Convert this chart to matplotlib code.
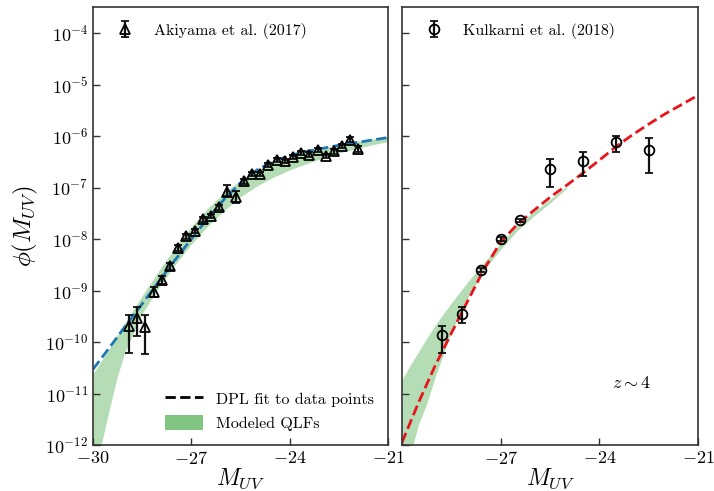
import numpy as np
import matplotlib.pyplot as plt
from matplotlib.patches import Patch
from matplotlib.lines import Line2D

plt.rcParams['font.family'] = 'serif'
plt.rcParams['font.serif'] = ['cmr10']
plt.rcParams['mathtext.fontset'] = 'cm'
plt.rcParams['axes.formatter.use_mathtext'] = True

# Akiyama et al. (2017) binned QLF: M_UV, log10 phi, lower / upper errors (dex)
aki_M = np.array([-28.9, -28.65, -28.4, -28.15, -27.9, -27.65, -27.4, -27.15,
                  -26.9, -26.65, -26.4, -26.15, -25.9, -25.65, -25.4, -25.15,
                  -24.9, -24.65, -24.4, -24.15, -23.9, -23.65, -23.4, -23.15,
                  -22.9, -22.65, -22.4, -22.15, -21.9])
aki_logphi = np.array([-9.69, -9.53, -9.70, -9.03, -8.79, -8.53, -8.17, -7.95,
                       -7.84, -7.62, -7.55, -7.38, -7.08, -7.18, -6.88, -6.73,
                       -6.73, -6.57, -6.47, -6.49, -6.40, -6.33, -6.36, -6.28,
                       -6.38, -6.30, -6.20, -6.07, -6.25])
aki_err_lo = np.array([0.53, 0.35, 0.53, 0.10, 0.08, 0.07, 0.06, 0.05,
                       0.05, 0.05, 0.05, 0.05, 0.09, 0.12, 0.06, 0.05,
                       0.05, 0.04, 0.04, 0.04, 0.04, 0.04, 0.04, 0.04,
                       0.05, 0.04, 0.04, 0.05, 0.06])
aki_err_hi = np.array([0.22, 0.21, 0.22, 0.09, 0.07, 0.06, 0.05, 0.05,
                       0.04, 0.04, 0.04, 0.04, 0.13, 0.11, 0.05, 0.04,
                       0.04, 0.04, 0.04, 0.04, 0.04, 0.04, 0.04, 0.04,
                       0.04, 0.04, 0.04, 0.05, 0.05])

# Kulkarni et al. (2018) binned QLF
kul_M = np.array([-28.78, -28.19, -27.6, -27.0, -26.4, -25.5, -24.51, -23.5, -22.49])
kul_logphi = np.array([-9.87, -9.45, -8.61, -8.00, -7.64, -6.64, -6.49, -6.12, -6.27])
kul_err_lo = np.array([0.35, 0.19, 0.04, 0.03, 0.03, 0.35, 0.28, 0.20, 0.45])
kul_err_hi = np.array([0.19, 0.13, 0.04, 0.03, 0.03, 0.19, 0.17, 0.12, 0.23])

# DPL fits (log10 phi) on a common magnitude grid
fit_M = np.array([-30, -29.5, -29, -28.5, -28, -27.5, -27, -26.5, -26, -25.5,
                  -25, -24.5, -24, -23.5, -23, -22.5, -22, -21.5, -21])
aki_fit = np.array([-10.53, -10.11, -9.68, -9.26, -8.83, -8.41, -8.00, -7.60, -7.23, -6.91,
                    -6.66, -6.49, -6.38, -6.30, -6.24, -6.18, -6.13, -6.08, -6.03])
kul_fit = np.array([-11.95, -11.18, -10.47, -9.83, -9.20, -8.58, -8.06, -7.72, -7.45, -7.19,
                    -6.96, -6.72, -6.47, -6.21, -5.98, -5.77, -5.57, -5.39, -5.21])

# Modeled QLF range, left panel
band1_M = np.array([-30, -29.75, -29.5, -29.25, -29, -28.5, -28, -27.5, -27, -26.5,
                    -26, -25.5, -25, -24.5, -24, -23.5, -23, -22.5, -22, -21.5, -21])
band1_hi = np.array([-10.62, -10.37, -10.12, -9.86, -9.60, -9.10, -8.62, -8.17, -7.76, -7.40,
                     -7.10, -6.86, -6.67, -6.52, -6.41, -6.32, -6.24, -6.17, -6.11, -6.06, -6.01])
band1_lo = np.array([-12.70, -12.00, -11.30, -10.65, -10.15, -9.45, -8.95, -8.50, -8.10, -7.75,
                     -7.45, -7.18, -6.97, -6.80, -6.66, -6.54, -6.43, -6.33, -6.25, -6.17, -6.11])

# Modeled QLF range, right panel
band2_M = np.array([-30, -29.75, -29.5, -29.25, -29, -28.5, -28, -27.5, -27, -26.5,
                    -26, -25.5, -25])
band2_hi = np.array([-10.73, -10.45, -10.19, -9.93, -9.68, -9.24, -8.83, -8.45, -8.08, -7.74,
                     -7.47, -7.23, -6.98])
band2_lo = np.array([-13.00, -12.20, -11.60, -11.20, -10.70, -9.80, -9.14, -8.60, -8.20, -7.84,
                     -7.56, -7.30, -7.02])

x_ticks = [-30, -27, -24, -21]


def yerr(logphi, lo, hi):
    phi = 10**logphi
    return [phi - 10**(logphi - lo), 10**(logphi + hi) - phi]


fig = plt.figure(figsize=(7.14, 4.91), dpi=100)
ax1 = fig.add_axes([93/714, 46/491, 295/714, 438/491])
ax2 = fig.add_axes([402/714, 46/491, 296/714, 438/491], sharey=ax1)

band_col = '#2ca02c'
for ax in (ax1, ax2):
    ax.set_yscale('log')
    ax.set_xlim(-30, -21)
    ax.set_ylim(1e-12, 3.2e-4)
    ax.set_xticks(x_ticks)
    ax.set_yticks([10.0**k for k in range(-12, -3)])
    ax.minorticks_off()
    ax.tick_params(direction='in', length=5, width=1, labelsize=13,
                   top=False, right=False, color='#333333')
    for s in ax.spines.values():
        s.set_color('#333333')
        s.set_linewidth(1.2)
    ax.set_xlabel(r'$M_{UV}$', fontsize=17, labelpad=0)

ax1.set_ylabel(r'$\phi(M_{UV})$', fontsize=18, labelpad=4)
ax2.tick_params(labelleft=False)
# the -30 label of the right panel would sit on top of the left panel's -21
ax2.set_xticklabels([''] + [r'$-%d$' % -t for t in x_ticks[1:]])

# left panel
ax1.fill_between(band1_M, 10**band1_lo, 10**band1_hi, color=band_col, alpha=0.35,
                 lw=0, zorder=1)
ax1.plot(fit_M, 10**aki_fit, '--', color='#1f77b4', lw=2, zorder=2)
h1 = ax1.errorbar(aki_M, 10**aki_logphi, yerr=yerr(aki_logphi, aki_err_lo, aki_err_hi),
                  fmt='^', mfc='none', mec='black', ms=7, mew=1.3, ecolor='#111111',
                  elinewidth=1.6, capsize=3, capthick=1.5, zorder=3)
leg1 = ax1.legend([h1], ['Akiyama et al. (2017)'], loc='upper left', frameon=False,
                  fontsize=11.5, handletextpad=0.8, borderaxespad=0.6)
ax1.add_artist(leg1)
ax1.legend([Line2D([], [], color='black', ls='--', lw=2),
            Patch(facecolor=band_col, alpha=0.6, lw=0)],
           ['DPL fit to data points', 'Modeled QLFs'],
           loc='lower right', frameon=False, fontsize=11.5, handlelength=2.4,
           handleheight=1.1, borderaxespad=0.5)

# right panel
ax2.fill_between(band2_M, 10**band2_lo, 10**band2_hi, color=band_col, alpha=0.35,
                 lw=0, zorder=1)
ax2.plot(fit_M, 10**kul_fit, '--', color='#e8141c', lw=2, zorder=2)
h2 = ax2.errorbar(kul_M, 10**kul_logphi, yerr=yerr(kul_logphi, kul_err_lo, kul_err_hi),
                  fmt='o', mfc='none', mec='black', ms=7, mew=1.3, ecolor='#111111',
                  elinewidth=1.6, capsize=3, capthick=1.5, zorder=3)
ax2.legend([h2], ['Kulkarni et al. (2018)'], loc='upper left', frameon=False,
           fontsize=11.5, handletextpad=0.8, borderaxespad=0.6)
ax2.text(0.71, 0.13, r'$z\sim4$', transform=ax2.transAxes, fontsize=13)

fig.savefig('out.png', dpi=100)
